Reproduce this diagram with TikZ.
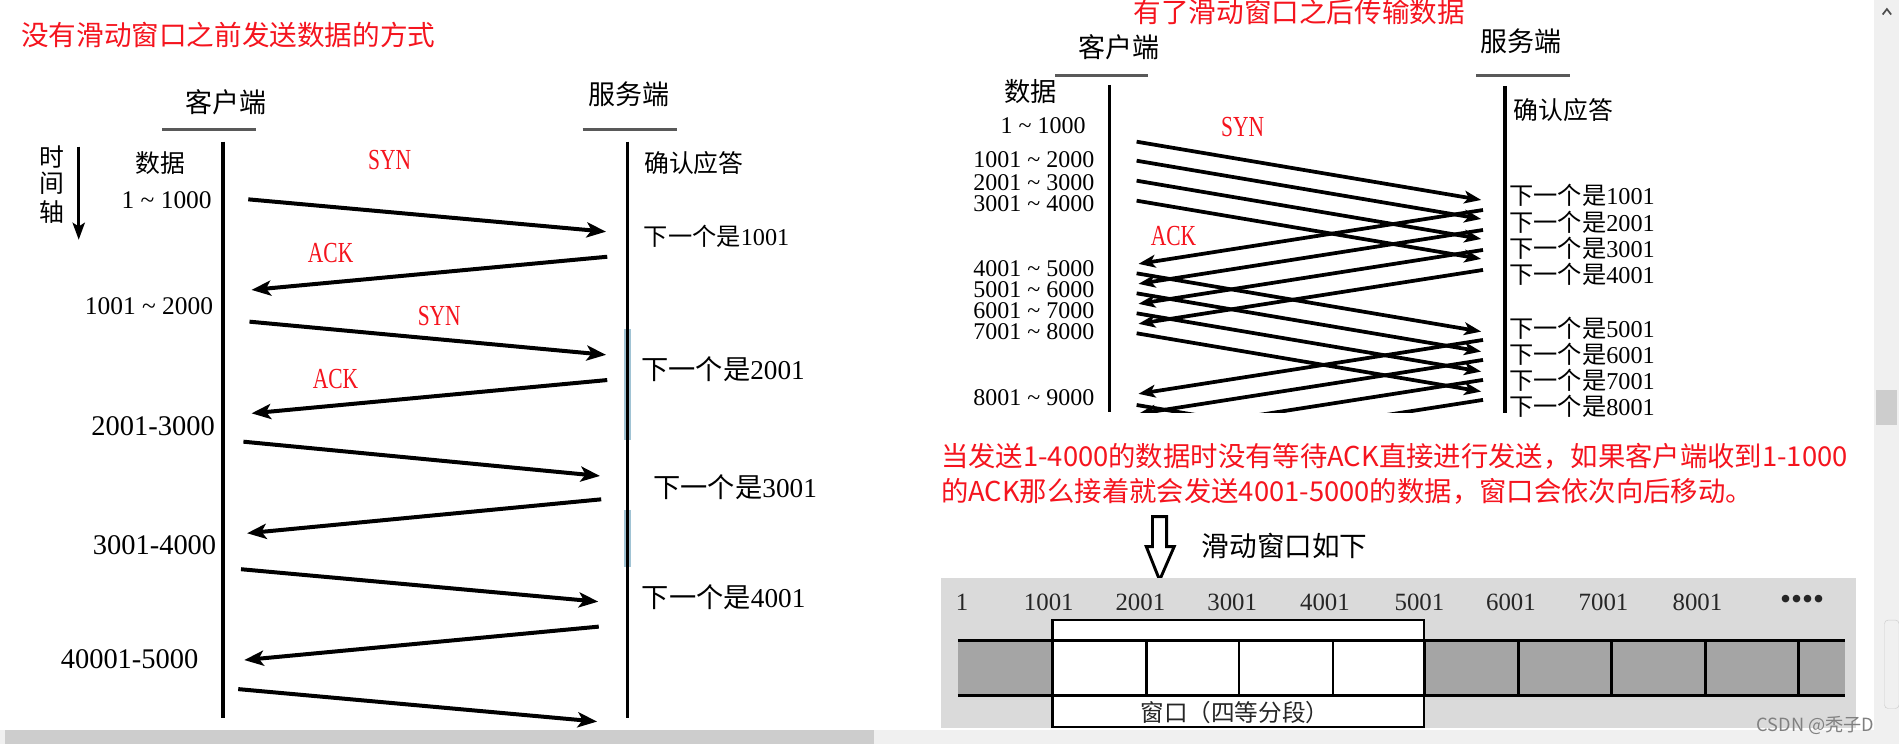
\documentclass[tikz,border=0pt]{standalone}
\usepackage{fontspec}
\setmainfont{Liberation Serif}
\newfontfamily\cjk{Noto Sans CJK SC}
\usetikzlibrary{arrows.meta}
\definecolor{tred}{RGB}{245,20,30}
\definecolor{bggray}{RGB}{218,218,218}
\definecolor{cellgray}{RGB}{165,165,165}
\definecolor{sbar}{RGB}{240,240,240}
\definecolor{sthumb}{RGB}{205,205,205}
\definecolor{glow}{RGB}{160,195,212}
\newcommand\mytilde{\ \textasciitilde\ }
\newcommand\myfs[1]{\fontsize{#1}{#1}\selectfont}
\begin{document}
\begin{tikzpicture}[x=1pt,y=-1pt,
  lbl/.style={inner sep=0pt,outer sep=0pt},
  titletext/.style={lbl,anchor=west,text=tred,font=\cjk\myfs{22.8}},
  redpara/.style={lbl,anchor=west,text=tred,font=\cjk\myfs{22.6}},
  headtext/.style={lbl,font=\cjk\myfs{22.3}},
  cjtext/.style={lbl,font=\cjk\myfs{20.5}},
  numtext/.style={lbl,font=\myfs{21}},
  numbig/.style={lbl,font=\myfs{23.5}},
  numsmall/.style={lbl,font=\myfs{19.8}},
  sigtext/.style={lbl,text=tred,font=\myfs{24}},
  acktext/.style={lbl,font=\myfs{20}},
  ackbig/.style={lbl,font=\myfs{22.5}},
  lifeline/.style={line width=3pt},
  uline/.style={line width=2.6pt,draw=black!65},
  msgL/.style={line width=3.3pt,-{Stealth[length=16pt,width=12.5pt,inset=4pt]}},
  msgR/.style={line width=3.1pt,-{Stealth[length=14pt,width=10.5pt,inset=3.5pt]}},
  barline/.style={line width=2.2pt}
]
\useasboundingbox (0,0) rectangle (1568,614.3);
\fill[white] (0,0) rectangle (1568,614.3);

% ================= LEFT PANEL =================
\node[titletext] (ltitle) at (17.5,29) {没有滑动窗口之前发送数据的方式};
\node[headtext] (lcli) at (186.5,84) {客户端};
\node[headtext] (lsrv) at (519,78) {服务端};
\draw[uline] (134,107) -- (211,107);
\draw[uline] (481,107) -- (559,107);
% bluish artefacts on server line
\draw[line width=6pt,glow] (518,272) -- (518,363);
\draw[line width=6pt,glow] (518,421) -- (518,468);
\coordinate (llt) at (184,117); \coordinate (llb) at (184,593);
\coordinate (lrt) at (518,117); \coordinate (lrb) at (518,593);
\draw[lifeline] (llt) -- (llb);
\draw[lifeline] (lrt) -- (lrb);
% time axis
\node[cjtext] (t1) at (42.5,130) {时};
\node[cjtext] (t2) at (42.5,151.5) {间};
\node[cjtext] (t3) at (42.5,175) {轴};
\coordinate (tas) at (65,121); \coordinate (tae) at (65,198);
\draw[line width=2.8pt,-{Stealth[length=14pt,width=10pt,inset=3pt]}] (tas) -- (tae);

\node[cjtext] (ldata) at (132.6,135) {数据};
\node[cjtext] (lconf) at (573,135) {确认应答};
\node[numtext] (l1) at (137.6,165) {1\mytilde 1000};
\node[numtext] (l2) at (123,252.5) {1001\mytilde 2000};
\node[numbig] (l3) at (126.4,352) {2001-3000};
\node[numbig] (l4) at (127.6,450) {3001-4000};
\node[numbig] (l5) at (107,544) {40001-5000};

\node[sigtext] (syn1) at (321.7,132) {\scalebox{0.74}[1]{SYN}};
\node[sigtext] (ack1) at (273,209) {\scalebox{0.74}[1]{ACK}};
\node[sigtext] (syn2) at (362.7,260.7) {\scalebox{0.74}[1]{SYN}};
\node[sigtext] (ack2) at (277,313) {\scalebox{0.74}[1]{ACK}};

\node[acktext] (n1) at (591.7,195) {{\cjk 下一个是}1001};
\node[ackbig] (n2) at (597,305) {{\cjk 下一个是}2001};
\node[ackbig] (n3) at (607,402.5) {{\cjk 下一个是}3001};
\node[ackbig] (n4) at (597.5,493) {{\cjk 下一个是}4001};

\coordinate (m1s) at (205,164.6);   \coordinate (m1e) at (500.4,191.3);
\coordinate (m2s) at (501.4,212);   \coordinate (m2e) at (207.7,239.4);
\coordinate (m3s) at (206,265.6);   \coordinate (m3e) at (500.4,293);
\coordinate (m4s) at (501.4,313.8); \coordinate (m4e) at (207.7,341.3);
\coordinate (m5s) at (201,364.7);   \coordinate (m5e) at (495.4,393);
\coordinate (m6s) at (496.4,412.3); \coordinate (m6e) at (204,440.3);
\coordinate (m7s) at (199,470);     \coordinate (m7e) at (494,496.8);
\coordinate (m8s) at (494.4,517.4); \coordinate (m8e) at (201.7,545);
\coordinate (m9s) at (196.7,569);   \coordinate (m9e) at (493,595.8);
\foreach \k in {1,...,9} { \draw[msgL] (m\k s) -- (m\k e); }

% ================= RIGHT PANEL =================
\node[titletext] (rtitle) at (936,9.5) {有了滑动窗口之后传输数据};
\node[headtext] (rcli) at (924,39) {客户端};
\node[headtext] (rsrv) at (1255.7,33.7) {服务端};
\draw[uline] (871.5,62) -- (947.5,62);
\draw[uline] (1219,62) -- (1296,62);
\coordinate (rlt) at (916,70);    \coordinate (rlb) at (916,340);
\coordinate (rrt) at (1242.5,71); \coordinate (rrb) at (1242.5,341);
\draw[line width=2.8pt] (rlt) -- (rlb);
\draw[line width=2.8pt] (rrt) -- (rrb);
\node[cjtext,font=\cjk\myfs{21.7}] (rdata) at (851,75.7) {数据};
\node[cjtext] (rconf) at (1291,91) {确认应答};
\node[numsmall] (r0) at (861.3,104) {1\mytilde 1000};
\node[numsmall] (r1) at (853.7,132) {1001\mytilde 2000};
\node[numsmall] (r2) at (853.7,150.5) {2001\mytilde 3000};
\node[numsmall] (r3) at (853.7,168) {3001\mytilde 4000};
\node[numsmall] (r4) at (853.7,222) {4001\mytilde 5000};
\node[numsmall] (r5) at (853.7,239.5) {5001\mytilde 6000};
\node[numsmall] (r6) at (853.7,256.8) {6001\mytilde 7000};
\node[numsmall] (r7) at (853.7,274) {7001\mytilde 8000};
\node[numsmall] (r8) at (853.7,328) {8001\mytilde 9000};
\node[sigtext] (rsyn) at (1026,104.6) {\scalebox{0.74}[1]{SYN}};
\node[sigtext] (rack) at (969,194.5) {\scalebox{0.74}[1]{ACK}};
\foreach \v/\y in {1001/161.6,2001/183.7,3001/204.9,4001/226.5,5001/271,6001/292.8,7001/313.7,8001/335.7}
  { \node[acktext] (nx\v) at (1306.3,\y) {{\cjk 下一个是}\v}; }
\begin{scope}
  \clip (930,60) rectangle (1236,341);
  \foreach \i/\y in {1/117.0,2/132.7,3/149.2,4/165.7,5/225.7,6/242.2,7/258.7,8/275.2,9/334.4} {
    \coordinate (ds\i) at (938.5,\y);
    \coordinate (de\i) at (1223,\y+48.1);
    \draw[msgR] (ds\i) -- (de\i);
  }
  \foreach \i/\y in {1/173.4,2/189.9,3/206.4,4/222.9,5/280.7,6/297.2,7/313.7,8/330.2} {
    \coordinate (as\i) at (1224.5,\y);
    \coordinate (ae\i) at (940,\y+44.5);
    \draw[msgR] (as\i) -- (ae\i);
  }
\end{scope}

% ================= EXPLANATION + WINDOW =================
\node[redpara] (p1) at (777,377) {当发送1-4000的数据时没有等待ACK直接进行发送，如果客户端收到1-1000};
\node[redpara] (p2) at (777,406) {的ACK那么接着就会发送4001-5000的数据，窗口会依次向后移动。};
\draw[line width=2.4pt,fill=white,line join=miter]
  (951.6,426.6) -- (963.3,426.6) -- (963.3,451.4) -- (969.5,451.4) -- (957.5,479)
  -- (946.5,451.4) -- (951.6,451.4) -- cycle;
\node[lbl,anchor=west,font=\cjk\myfs{22.8}] (wtitle) at (992.4,450.7) {滑动窗口如下};

\fill[bggray] (777,477.5) rectangle (1532.3,601.4);
\fill[cellgray] (791,529) rectangle (1523,574.4);
\draw[line width=2pt,fill=white] (869,511.9) rectangle (1176,600.5);
\draw[barline] (791,529) -- (1523,529);
\draw[barline] (791,574.4) -- (1523,574.4);
\foreach \xx in {946.5,1023,1100.6,1253.7,1330.8,1408.3,1484.9}
  { \draw[barline] (\xx,529) -- (\xx,574.4); }
\draw[barline] (869,529) -- (869,574.4);
\draw[barline] (1176,529) -- (1176,574.4);
\foreach \v/\xx in {1/794.4,1001/866,2001/941.6,3001/1017.4,4001/1094,5001/1172,6001/1247.6,7001/1324,8001/1401.6}
  { \node[numsmall,font=\myfs{20.5},text=black!85] (b\v) at (\xx,497.6) {\v}; }
\node[lbl,font=\myfs{26},text=black!85] (bdots) at (1488,497.6) {••••};
\node[lbl,font=\cjk\myfs{19.5},text=black!85] (wlabel) at (1019.6,588) {窗口（四等分段）};

% ================= SCREEN CHROME =================
\fill[sbar] (1547.5,0) rectangle (1568,602.5);
\fill[sthumb] (1549,322) rectangle (1566,351);
\draw[black!70,line width=1.4pt] (1554.5,12) -- (1558,7.5) -- (1561.5,12);
\draw[black!20,fill=black!6,rounded corners=3pt] (1556,512) rectangle (1568,585);
\fill[sbar] (0,602.5) rectangle (1568,614.3);
\fill[sthumb] (4,602.7) rectangle (722,614.3);
\node[lbl,font=\cjk\myfs{15},text=black!50] (wm) at (1499,599) {CSDN @秃子D};
\end{tikzpicture}
\end{document}
